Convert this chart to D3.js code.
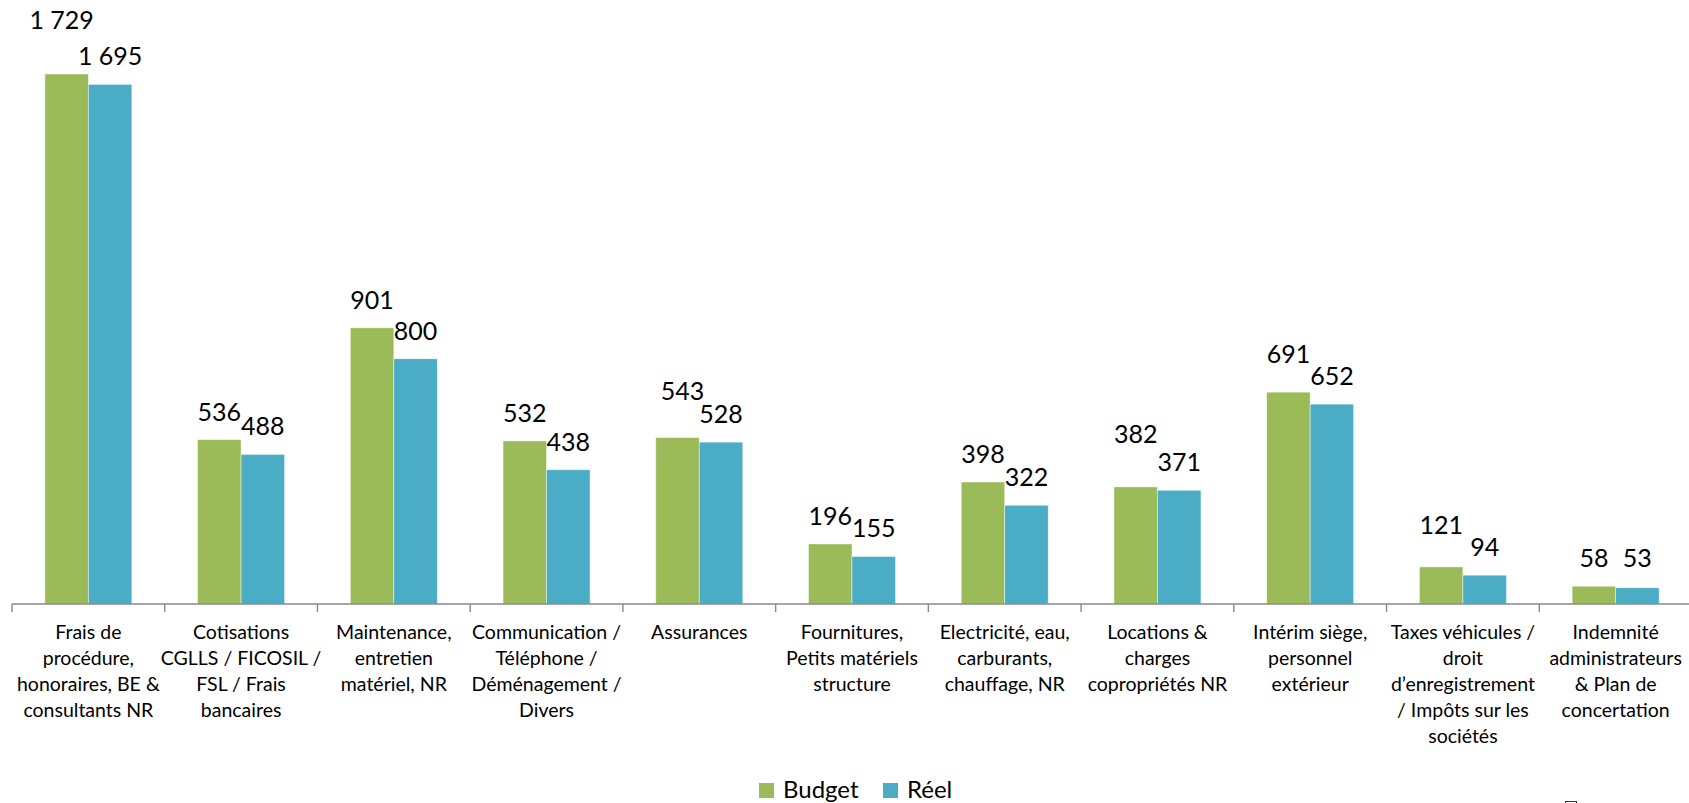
<!DOCTYPE html>
<html lang="fr">
<head>
<meta charset="utf-8">
<title>Budget / Réel</title>
<script src="https://cdn.jsdelivr.net/npm/d3@7"></script>
<style>
  html, body { margin: 0; padding: 0; background: #ffffff; }
  svg { display: block; }
  text { font-family: Lato, "Noto Sans", "DejaVu Sans", sans-serif; fill: #000; }
</style>
</head>
<body>
<svg id="chart" width="1689" height="803"></svg>
<script>
// Category labels, one entry per group, "\n" marks a line break
const categories = [
  "Frais de\nprocédure,\nhonoraires, BE &\nconsultants NR",
  "Cotisations\nCGLLS / FICOSIL /\nFSL / Frais\nbancaires",
  "Maintenance,\nentretien\nmatériel, NR",
  "Communication /\nTéléphone /\nDéménagement /\nDivers",
  "Assurances",
  "Fournitures,\nPetits matériels\nstructure",
  "Electricité, eau,\ncarburants,\nchauffage, NR",
  "Locations &\ncharges\ncopropriétés NR",
  "Intérim siège,\npersonnel\nextérieur",
  "Taxes véhicules /\ndroit\nd’enregistrement\n/ Impôts sur les\nsociétés",
  "Indemnité\nadministrateurs\n& Plan de\nconcertation"
];
const seriesNames = ["Budget", "Réel"];
const budget = [1729, 536, 901, 532, 543, 196, 398, 382, 691, 121, 58];
const reel   = [1695, 488, 800, 438, 528, 155, 322, 371, 652, 94, 53];

// Hand-placed data labels (offsets in px from the default spot above the bar)
const labelNudge = {
  "Budget-0": [-5, -26],
  "Budget-4": [5, -19],
  "Budget-7": [0, -25],
  "Budget-8": [0, -10],
  "Budget-9": [0, -14],
  "Réel-10": [0, -2]
};

const colors = { "Budget": "#9bbb59", "Réel": "#4bacc6" };

const svg = d3.select("#chart");
const axisY = 604;

const x0 = d3.scaleBand()
  .domain(categories.map((c, i) => i))
  .range([12, 1692])
  .padding(0);

const x1 = d3.scaleBand()
  .domain(seriesNames)
  .range([0, x0.bandwidth()])
  .paddingInner(0)
  .paddingOuter(0.756);

const y = d3.scaleLinear()
  .domain([0, 1800])
  .range([axisY, axisY - 1800 * (530 / 1729)]);

const fr = d3.formatLocale({ decimal: ",", thousands: " ", grouping: [3], currency: ["", " €"] });
const fmt = fr.format(",d");

const rows = categories.map((c, i) => ({
  i,
  values: [
    { key: "Budget", v: budget[i] },
    { key: "Réel", v: reel[i] }
  ]
}));

// Bars
const groups = svg.append("g").selectAll("g")
  .data(rows)
  .join("g")
  .attr("transform", d => `translate(${x0(d.i)},0)`);

groups.selectAll("rect")
  .data(d => d.values)
  .join("rect")
  .attr("x", d => x1(d.key))
  .attr("y", d => y(d.v))
  .attr("width", x1.bandwidth())
  .attr("height", d => y(0) - y(d.v))
  .attr("fill", d => colors[d.key])
  .attr("stroke", "rgba(255,255,255,0.55)")
  .attr("stroke-width", 0.8);

// Value labels
groups.selectAll("text.val")
  .data(d => d.values.map(v => ({ ...v, i: d.i })))
  .join("text")
  .attr("class", "val")
  .attr("text-anchor", "middle")
  .attr("font-size", 25)
  .attr("x", d => x1(d.key) + x1.bandwidth() / 2 + ((labelNudge[d.key + "-" + d.i] || [0, 0])[0]))
  .attr("y", d => y(d.v) - 19 + ((labelNudge[d.key + "-" + d.i] || [0, 0])[1]))
  .text(d => fmt(d.v));

// Category axis
const axis = d3.axisBottom(x0).tickSize(0).tickFormat(() => "");
const gAxis = svg.append("g")
  .attr("transform", `translate(0,${axisY})`)
  .call(axis);
gAxis.select(".domain").attr("stroke", "#898989").attr("stroke-width", 1.4)
  .attr("d", `M12,0H1692`);
gAxis.selectAll(".tick").remove();

// Tick marks on band boundaries
svg.append("g").selectAll("line")
  .data(categories.map((c, i) => i))
  .join("line")
  .attr("x1", i => x0(i))
  .attr("x2", i => x0(i))
  .attr("y1", axisY)
  .attr("y2", axisY + 8)
  .attr("stroke", "#898989")
  .attr("stroke-width", 1.4);

// Wrapped category labels
const catText = svg.append("g").selectAll("text")
  .data(categories.map((c, i) => ({ i, lines: c.split("\n") })))
  .join("text")
  .attr("text-anchor", "middle")
  .attr("font-size", 19.5)
  .attr("transform", d => `translate(${x0(d.i) + x0.bandwidth() / 2},${axisY + 35})`);

catText.selectAll("tspan")
  .data(d => d.lines)
  .join("tspan")
  .attr("x", 0)
  .attr("y", (l, k) => k * 26)
  .text(l => l);

// Legend
const legend = svg.append("g").attr("transform", "translate(759,798)");
const legendItems = legend.selectAll("g")
  .data(seriesNames)
  .join("g")
  .attr("transform", (d, k) => `translate(${k * 124},0)`);
legendItems.append("rect")
  .attr("x", 0).attr("y", -15)
  .attr("width", 15).attr("height", 15)
  .attr("fill", d => colors[d]);
legendItems.append("text")
  .attr("x", 24).attr("y", 0)
  .attr("font-size", 24)
  .text(d => d);

// Small handle mark at the lower right corner
svg.append("rect")
  .attr("x", 1565.5).attr("y", 801.5)
  .attr("width", 11).attr("height", 10)
  .attr("fill", "none")
  .attr("stroke", "#333")
  .attr("stroke-width", 1);
</script>
</body>
</html>
